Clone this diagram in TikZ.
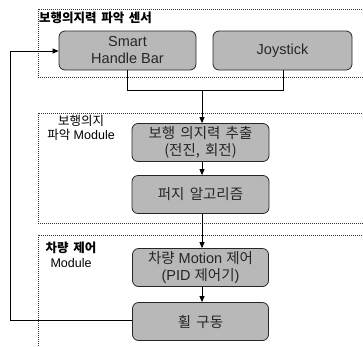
\documentclass[tikz,border=0pt]{standalone}
\usepackage{fontspec}
\setmainfont{Liberation Sans}
\newfontfamily\kr[WordSpace=1.6]{Noto Sans CJK KR}
\usetikzlibrary{arrows.meta}
\begin{document}
\begin{tikzpicture}[x=1pt,y=-1pt,
  group/.style={draw=black!80, line width=0.6pt, dash pattern=on 1pt off 1pt},
  proc/.style={draw=black!85, line width=0.8pt, fill=black!28, rounded corners=6pt, align=center, font=\fontsize{14.5}{17}\selectfont, text=black!85, inner sep=0pt},
  lbl/.style={font=\fontsize{12.5}{14.5}\selectfont, align=center, inner sep=0pt},
  conn/.style={draw=black, line width=0.8pt},
  arr/.style={conn, -{Triangle[length=6pt,width=5pt]}}]
\useasboundingbox (0,0) rectangle (363,346);
\draw[group] (366,9) -- (38,9) -- (38,77) -- (366,77);
\draw[group] (366,113) -- (38,113) -- (38,223) -- (366,223);
\draw[group] (366,235) -- (38,235) -- (38,346);
\node[lbl, anchor=west] (l1) at (39,18) {\kr\bfseries 보행의지력 파악 센서};
\node[lbl] (l2) at (81,128) {{\kr 보행의지}\\{\kr 파악} Module};
\node[lbl] (l3) at (71,255) {{\kr\bfseries 차량 제어}\\Module};
\node[proc, minimum width=137pt, minimum height=39pt] (shb) at (127.5,50.5) {Smart\\Handle Bar};
\node[proc, minimum width=139pt, minimum height=39pt] (joy) at (282.5,50.5) {Joystick};
\node[proc, minimum width=137pt, minimum height=38pt] (ext) at (200.5,142.5) {\kr 보행 의지력 추출\\\kr (전진, 회전)};
\node[proc, minimum width=137pt, minimum height=38pt] (fuz) at (200.5,194.5) {\kr 퍼지 알고리즘};
\node[proc, minimum width=136pt, minimum height=38pt] (mot) at (200.5,267.5) {{\kr 차량} Motion {\kr 제어}\\(PID {\kr 제어기})};
\node[proc, minimum width=136pt, minimum height=38pt] (whl) at (200.5,321.5) {\kr 휠 구동};
\coordinate (j) at (202,90);
\draw[conn] (127,70) -- (127,90) -- (283,90) -- (283,70);
\draw[arr] (j) -- (ext.north -| j);
\draw[arr] (ext.south -| j) -- (fuz.north -| j);
\draw[arr] (fuz.south -| j) -- (mot.north -| j);
\draw[arr] (mot.south -| j) -- (whl.north -| j);
\coordinate (fb) at (10,320);
\draw[arr] (whl.west |- fb) -- (fb) -- (10,51) -- (shb.west |- 0,51);
\end{tikzpicture}
\end{document}
